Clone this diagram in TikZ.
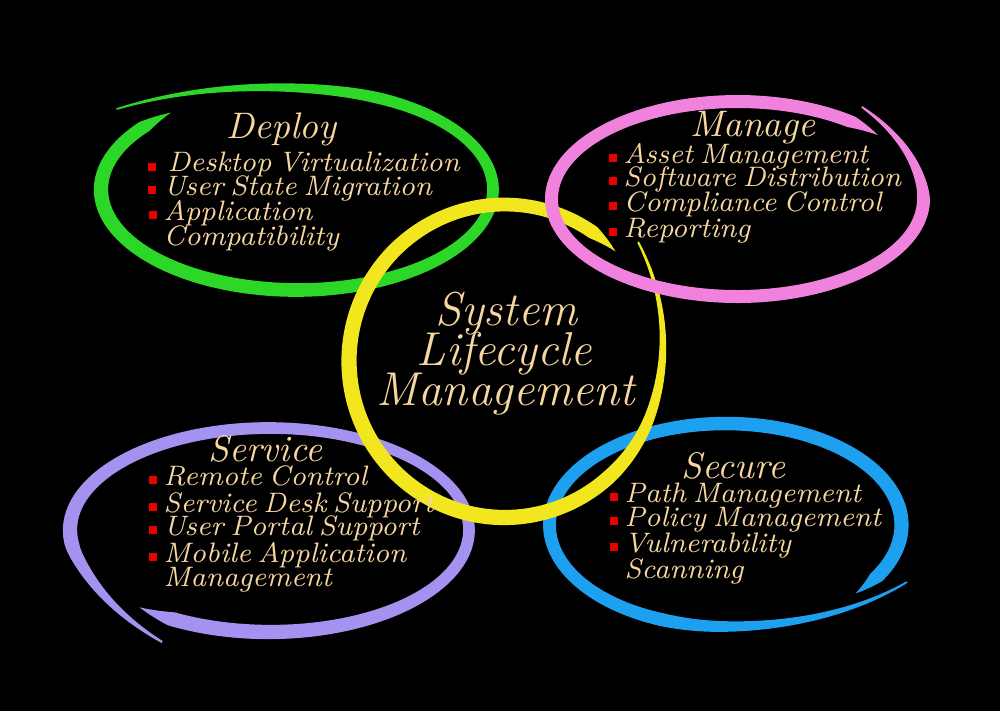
\documentclass[tikz,border=0pt]{standalone}
\usepackage{xcolor}
\definecolor{peach}{RGB}{247,214,160}
\definecolor{bulred}{RGB}{235,0,0}
\definecolor{rgreen}{RGB}{45,215,40}
\definecolor{rpink}{RGB}{240,130,222}
\definecolor{ryellow}{RGB}{242,230,30}
\definecolor{rpurple}{RGB}{165,145,240}
\definecolor{rblue}{RGB}{30,160,240}
\def\Cx{0}\def\Cy{0}\def\Rx{1}\def\Ry{1}\def\Az{0}\def\Sp{360}\def\W{10}
\def\Wa{0}\def\Wb{0}\def\Kf{0}\def\Tk{0.1}\def\Ts{0.1}\def\Te{0.03}
\newcommand\setring[9]{\def\Cx{#1}\def\Cy{#2}\def\Rx{#3}\def\Ry{#4}\def\Az{#5}\def\Sp{#6}\def\W{#7}\def\Kf{#8}\def\Tk{#9}}
\newcommand\brushring[1]{%
  \fill[#1] plot[domain=0:\Sp,samples=300,variable=\s]
    ({\Cx+(\Rx*kk(\s)+ww(\s)/2)*cos(\Az+\s)},{\Cy+(\Ry*kk(\s)+ww(\s)/2)*sin(\Az+\s)})
    -- plot[domain=0:\Sp,samples=300,variable=\s]
    ({\Cx+(\Rx*kk(\Sp-\s)-ww(\Sp-\s)/2)*cos(\Az+\Sp-\s)},{\Cy+(\Ry*kk(\Sp-\s)-ww(\Sp-\s)/2)*sin(\Az+\Sp-\s)})
    -- cycle;}
\begin{document}
\begin{tikzpicture}[x=0.01cm,y=-0.01cm,
  declare function={
    uu(\q)=\q/\Sp;
    kk(\q)=1+\Kf*max(0,1-uu(\q)/\Tk)*max(0,1-uu(\q)/\Tk);
    ww(\q)=\W*(1+\Wa*sin(\Az+\q)-\Wb*cos(\Az+\q))*min(1,0.15+0.85*uu(\q)/\Ts)*max(0,min(1,(1-uu(\q))/\Te));
  },
  txt/.style={text=peach,font={\fontsize{8}{10}\selectfont\itshape\spaceskip=0.24em plus 0.1em},inner sep=0pt,anchor=base west},
  head/.style={text=peach,font=\fontsize{10.5}{12}\selectfont\itshape,inner sep=0pt,anchor=base},
  ttl/.style={text=peach,font=\fontsize{13.5}{16}\selectfont\itshape,inner sep=0pt,anchor=base},
  bul/.style={rectangle,fill=bulred,draw=none,minimum size=0.08cm,inner sep=0pt}]
\fill[black] (0,0) rectangle (1000,711);
\useasboundingbox (0,0) rectangle (1000,711);
% green ring (Deploy)
\setring{297}{189.5}{196}{100.5}{221}{369}{13}{0.22}{0.17}\def\Wa{0.05}\def\Wb{0.1}\def\Ts{0.2}\def\Te{0.03}
\brushring{rgreen}
% purple ring (Service)
\setring{269.5}{530}{199.5}{102}{116.1}{374.6}{13}{0.223}{0.13}\def\Wa{0.1}\def\Wb{0.1}\def\Ts{0.15}\def\Te{0.03}
\brushring{rpurple}
% blue ring (Secure)
\setring{725.5}{525}{176}{101.5}{28.6}{373.8}{13.5}{0.174}{0.165}\def\Wa{0}\def\Wb{-0.05}\def\Ts{0.22}\def\Te{0.03}
\brushring{rblue}
% yellow ring (centre)
\setring{504.5}{361}{155.5}{156.5}{318.5}{357.1}{14.5}{0.147}{0.167}\def\Wa{0.05}\def\Wb{0.05}\def\Ts{0.25}\def\Te{0.03}
\brushring{ryellow}
% pink ring (Manage)
\setring{737.5}{199}{186}{97.5}{305.3}{373.7}{13}{0.157}{0.13}\def\Wa{0}\def\Wb{0}\def\Ts{0.15}\def\Te{0.03}
\brushring{rpink}
% Deploy
\node[head] (deploy) at (281.5,138) {Deploy};
\node[bul] (b11) at (152,166.5) {};
\node[txt] (t11) at (167,171.7) {Desktop Virtualization};
\node[bul] (b12) at (152,189.5) {};
\node[txt] (t12) at (163,195) {User State Migration};
\node[bul] (b13) at (153,214.5) {};
\node[txt] (t13) at (163,220) {Application};
\node[txt] (t14) at (163,245) {Compatibility};
% Manage
\node[head] (manage) at (753,136.7) {Manage};
\node[bul] (b21) at (613,157.5) {};
\node[txt] (t21) at (623,163) {Asset Management};
\node[bul] (b22) at (613,181) {};
\node[txt] (t22) at (623,186.5) {Software Distribution};
\node[bul] (b23) at (613,206) {};
\node[txt] (t23) at (623,211.5) {Compliance Control};
\node[bul] (b24) at (613,231.5) {};
\node[txt] (t24) at (623,237) {Reporting};
% Centre
\node[ttl] (sys) at (506.5,325) {System};
\node[ttl] (life) at (504.5,365) {Lifecycle};
\node[ttl] (mgmt) at (506,405) {Management};
% Service
\node[head] (service) at (265.5,461.7) {Service};
\node[bul] (b31) at (153,480) {};
\node[txt] (t31) at (163,485.5) {Remote Control};
\node[bul] (b32) at (153,506.5) {};
\node[txt] (t32) at (163,512) {Service Desk Support};
\node[bul] (b33) at (153,529.5) {};
\node[txt] (t33) at (163,535) {User Portal Support};
\node[bul] (b34) at (153,556.5) {};
\node[txt] (t34) at (163,562) {Mobile Application};
\node[txt] (t35) at (163,586.7) {Management};
% Secure
\node[head] (secure) at (733.5,478.3) {Secure};
\node[bul] (b41) at (614,497) {};
\node[txt] (t41) at (624,502.5) {Path Management};
\node[bul] (b42) at (614,521) {};
\node[txt] (t42) at (624,526.5) {Policy Management};
\node[bul] (b43) at (614,546.5) {};
\node[txt] (t43) at (624,552) {Vulnerability};
\node[txt] (t44) at (624,578) {Scanning};
\end{tikzpicture}
\end{document}
